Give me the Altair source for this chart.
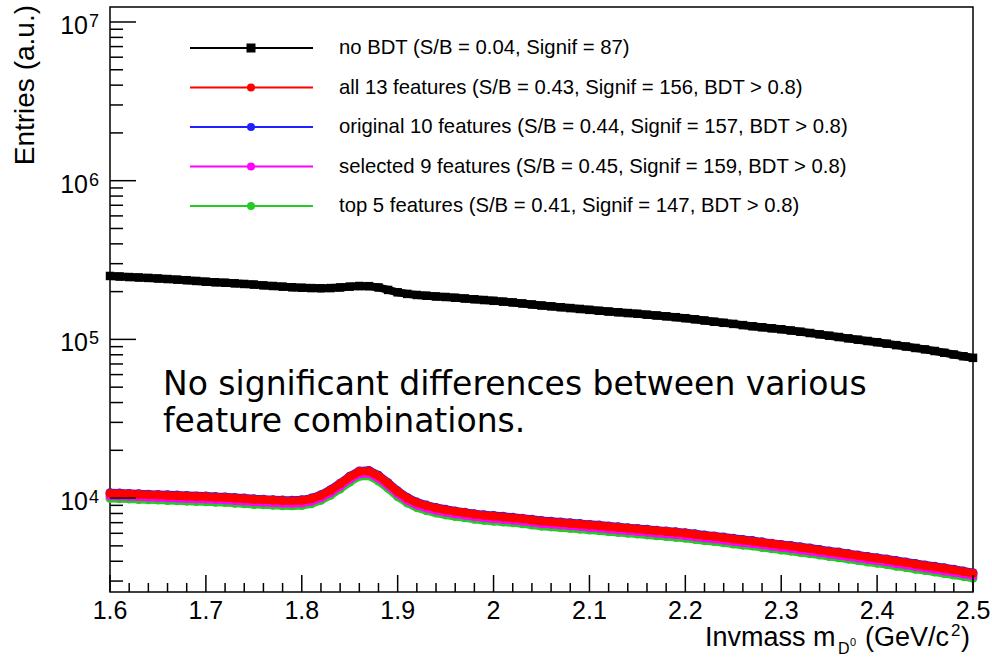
import altair as alt
import pandas as pd

# Bin centres of the invariant-mass histogram (GeV/c^2)
mass = [round(1.60 + 0.01 * i, 2) for i in range(91)]

no_bdt = [
    251000, 249000, 247000, 245500, 244000, 242000, 240000, 238000, 236000, 233500,
    231000, 229000, 227500, 225500, 223500, 221500, 219000, 217000, 215000, 213000,
    211500, 210500, 210000, 210500, 212500, 215000, 217000, 216500, 212500, 205000,
    198000, 193500, 190500, 188500, 186500, 185000, 183000, 181000, 179000, 177000,
    175000, 173000, 171000, 168500, 166000, 163500, 161500, 159500, 157500, 155500,
    153500, 151500, 149800, 148200, 146500, 145000, 143200, 141500, 139700, 138000,
    136000, 133800, 131500, 129300, 127200, 125200, 123000, 121000, 119200, 117400,
    115800, 113800, 111800, 109700, 107600, 105500, 103500, 101500, 99600, 97700,
    96000, 94000, 92000, 90200, 88300, 86500, 84500, 82400, 80300, 78300, 76500,
]

all13 = [
    10700, 10650, 10600, 10550, 10480, 10450, 10380, 10350, 10280, 10230,
    10200, 10120, 10080, 9980, 9900, 9800, 9750, 9680, 9620, 9600,
    9650, 9900, 10400, 11200, 12300, 13600, 14700, 14800, 13800, 12400,
    11000, 10000, 9350, 8950, 8650, 8420, 8230, 8080, 7900, 7780,
    7680, 7600, 7500, 7400, 7280, 7150, 7080, 7000, 6920, 6850,
    6760, 6700, 6600, 6520, 6450, 6380, 6300, 6220, 6150, 6080,
    6000, 5900, 5800, 5720, 5620, 5520, 5430, 5350, 5250, 5150,
    5060, 4980, 4880, 4800, 4700, 4600, 4520, 4430, 4340, 4250,
    4170, 4100, 4000, 3920, 3830, 3750, 3680, 3600, 3520, 3440, 3360,
]

orig10 = [
    10800, 10760, 10700, 10660, 10590, 10550, 10490, 10450, 10380, 10330,
    10300, 10220, 10180, 10080, 10000, 9900, 9850, 9780, 9720, 9700,
    9750, 10000, 10500, 11310, 12420, 13730, 14840, 14950, 13940, 12520,
    11110, 10100, 9440, 9040, 8740, 8500, 8310, 8160, 7980, 7860,
    7760, 7680, 7580, 7470, 7350, 7220, 7150, 7070, 6990, 6920,
    6830, 6770, 6670, 6590, 6510, 6440, 6360, 6280, 6210, 6140,
    6060, 5960, 5860, 5780, 5680, 5580, 5480, 5400, 5300, 5200,
    5110, 5030, 4930, 4850, 4750, 4650, 4570, 4470, 4380, 4290,
    4210, 4140, 4040, 3960, 3870, 3790, 3720, 3640, 3560, 3470, 3390,
]

sel9 = [
    10320, 10280, 10230, 10180, 10110, 10080, 10020, 9990, 9920, 9870,
    9840, 9770, 9730, 9630, 9550, 9460, 9410, 9340, 9280, 9260,
    9310, 9550, 10040, 10810, 11870, 13120, 14190, 14280, 13320, 11970,
    10620, 9650, 9020, 8640, 8350, 8130, 7940, 7800, 7620, 7510,
    7410, 7330, 7240, 7140, 7030, 6900, 6830, 6760, 6680, 6610,
    6520, 6470, 6370, 6290, 6220, 6160, 6080, 6000, 5930, 5870,
    5790, 5690, 5600, 5520, 5420, 5330, 5240, 5160, 5070, 4970,
    4880, 4810, 4710, 4630, 4540, 4440, 4360, 4270, 4190, 4100,
    4020, 3960, 3860, 3780, 3700, 3620, 3550, 3470, 3400, 3320, 3240,
]

top5 = [
    9950, 9900, 9860, 9800, 9750, 9720, 9650, 9620, 9560, 9510,
    9480, 9410, 9370, 9280, 9210, 9110, 9070, 9000, 8950, 8930,
    8970, 9200, 9670, 10400, 11400, 12600, 13700, 13800, 12800, 11500,
    10200, 9300, 8700, 8320, 8040, 7830, 7650, 7510, 7350, 7230,
    7140, 7070, 6980, 6880, 6770, 6650, 6580, 6510, 6440, 6370,
    6290, 6230, 6140, 6060, 6000, 5930, 5860, 5780, 5720, 5650,
    5580, 5490, 5390, 5320, 5230, 5130, 5050, 4980, 4880, 4790,
    4710, 4630, 4540, 4460, 4370, 4280, 4200, 4120, 4040, 3950,
    3880, 3810, 3720, 3650, 3560, 3490, 3420, 3350, 3270, 3200, 3120,
]

legend_labels = [
    "no BDT (S/B = 0.04, Signif = 87)",
    "all 13 features (S/B = 0.43, Signif = 156, BDT > 0.8)",
    "original 10 features (S/B = 0.44, Signif = 157, BDT > 0.8)",
    "selected 9 features (S/B = 0.45, Signif = 159, BDT > 0.8)",
    "top 5 features (S/B = 0.41, Signif = 147, BDT > 0.8)",
]
legend_colors = ["#000000", "#ff0000", "#1f1fff", "#ff00ff", "#22cc22"]
legend_shapes = ["square", "circle", "circle", "circle", "circle"]

x_major = [1.6, 1.7, 1.8, 1.9, 2.0, 2.1, 2.2, 2.3, 2.4, 2.5]
x_labels = ["1.6", "1.7", "1.8", "1.9", "2", "2.1", "2.2", "2.3", "2.4", "2.5"]
y_major = [1e4, 1e5, 1e6, 1e7]
y_exp = ["4", "5", "6", "7"]

W, H = 863, 585
FONT = "Liberation Sans"

xs = alt.Scale(domain=[1.6, 2.5], nice=False, zero=False)
ys = alt.Scale(type="log", domain=[2560, 1.243e7], nice=False)


def X(field):
    return alt.X(f"{field}:Q", scale=xs, axis=None)


def Y(field):
    return alt.Y(f"{field}:Q", scale=ys, axis=None)


one = pd.DataFrame({"a": [0]})
layers = []

# Histogram series: thick line + dense markers, drawn back to front
series = [
    (no_bdt, "#000000", "square", 8, 72),
    (top5, "#22cc22", "circle", 8, 80),
    (sel9, "#ff00ff", "circle", 8, 80),
    (orig10, "#1f1fff", "circle", 8, 80),
    (all13, "#ff0000", "circle", 8, 80),
]
for vals, col, shape, lw, msize in series:
    df = pd.DataFrame({"m": mass, "v": vals})
    base = alt.Chart(df)
    layers.append(base.mark_line(color=col, strokeWidth=lw).encode(x=X("m"), y=Y("v")))
    layers.append(
        base.mark_point(shape=shape, filled=True, color=col, size=msize, opacity=1)
        .encode(x=X("m"), y=Y("v"))
    )

# Inward axis ticks
x_minor = [round(1.6 + 0.02 * i, 2) for i in range(46)]
x_minor = [t for t in x_minor if round(t * 10, 6) != round(round(t * 10), 6)]
y_minor = [m * 10 ** k for k in range(3, 7) for m in range(2, 10) if 2560 <= m * 10 ** k <= 1.243e7]

layers.append(
    alt.Chart(pd.DataFrame({"t": x_major})).mark_rule(color="black", strokeWidth=1.5)
    .encode(x=X("t"), y=alt.value(H), y2=alt.value(H - 17))
)
layers.append(
    alt.Chart(pd.DataFrame({"t": x_minor})).mark_rule(color="black", strokeWidth=1.5)
    .encode(x=X("t"), y=alt.value(H), y2=alt.value(H - 9))
)
layers.append(
    alt.Chart(pd.DataFrame({"t": y_major})).mark_rule(color="black", strokeWidth=1.5)
    .encode(y=Y("t"), x=alt.value(0), x2=alt.value(26))
)
layers.append(
    alt.Chart(pd.DataFrame({"t": y_minor})).mark_rule(color="black", strokeWidth=1.5)
    .encode(y=Y("t"), x=alt.value(0), x2=alt.value(13))
)

# Tick labels
layers.append(
    alt.Chart(pd.DataFrame({"t": x_major, "lab": x_labels}))
    .mark_text(font=FONT, fontSize=25, align="center", baseline="alphabetic", color="black")
    .encode(x=X("t"), y=alt.value(H + 27), text="lab:N")
)
ylab = pd.DataFrame({"t": y_major, "e": y_exp, "b": ["10"] * 4})
layers.append(
    alt.Chart(ylab)
    .mark_text(font=FONT, fontSize=25, align="right", baseline="alphabetic", dy=12, color="black")
    .encode(y=Y("t"), x=alt.value(-22), text="b:N")
)
layers.append(
    alt.Chart(ylab)
    .mark_text(font=FONT, fontSize=18, align="left", baseline="alphabetic", dy=5, color="black")
    .encode(y=Y("t"), x=alt.value(-21), text="e:N")
)

# Axis titles
layers.append(
    alt.Chart(one)
    .mark_text(font=FONT, fontSize=28, angle=270, align="right", baseline="middle", color="black")
    .encode(x=alt.value(-84), y=alt.value(-2), text=alt.value("Entries (a.u.)"))
)
title_parts = [
    ("Invmass m", 595, 639, 27),
    ("D", 728, 647, 16),
    ("0", 740, 639, 11),
    ("(GeV/c", 755, 639, 27),
    ("2", 841, 629, 17),
    (")", 851, 639, 27),
]
for txt, px, py, fs in title_parts:
    layers.append(
        alt.Chart(one)
        .mark_text(font=FONT, fontSize=fs, align="left", baseline="alphabetic", color="black")
        .encode(x=alt.value(px), y=alt.value(py), text=alt.value(txt))
    )

# Legend
for i, (lab, col, shp) in enumerate(zip(legend_labels, legend_colors, legend_shapes)):
    ry = 41 + i * 39.5
    layers.append(
        alt.Chart(one).mark_rule(color=col, strokeWidth=1.8)
        .encode(x=alt.value(80), x2=alt.value(203), y=alt.value(ry))
    )
    layers.append(
        alt.Chart(one).mark_point(shape=shp, filled=True, color=col, size=81 if shp == "square" else 64, opacity=1)
        .encode(x=alt.value(141), y=alt.value(ry))
    )
    layers.append(
        alt.Chart(one)
        .mark_text(font=FONT, fontSize=20.3, align="left", baseline="middle", color="black")
        .encode(x=alt.value(229), y=alt.value(ry), text=alt.value(lab))
    )

# Annotation
for txt, py in [("No significant differences between various", 388),
                ("feature combinations.", 425)]:
    layers.append(
        alt.Chart(one)
        .mark_text(font="DejaVu Sans", fontSize=33, align="left", baseline="alphabetic", color="black")
        .encode(x=alt.value(53), y=alt.value(py), text=alt.value(txt))
    )

chart = (
    alt.layer(*layers)
    .properties(
        width=W,
        height=H,
        autosize="none",
        padding={"left": 110, "top": 7, "right": 19, "bottom": 66},
        background="white",
    )
    .configure_view(stroke="black", strokeWidth=1.5)
)

chart.save("out.html", embed_options={"renderer": "svg", "actions": False})
